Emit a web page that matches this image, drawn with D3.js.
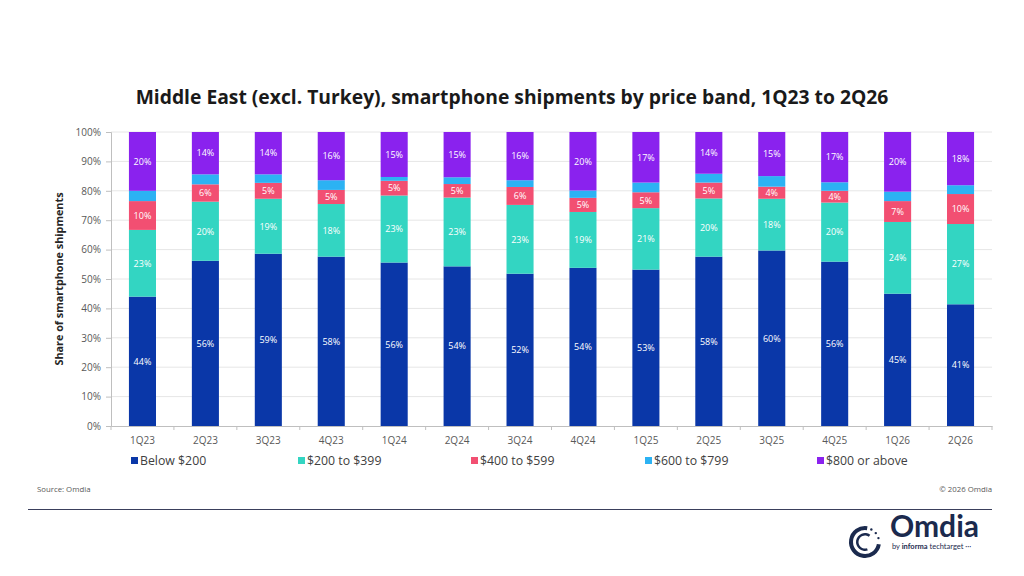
<!DOCTYPE html>
<html><head><meta charset="utf-8">
<script src="https://cdn.jsdelivr.net/npm/d3@7"></script>
<style>
html,body{margin:0;padding:0;background:#fff;}
svg{display:block;font-family:"Open Sans","Noto Sans",sans-serif;}
</style></head>
<body>
<svg id="chart" width="1024" height="576"></svg>
<script>
const categories = ["1Q23","2Q23","3Q23","4Q23","1Q24","2Q24","3Q24","4Q24","1Q25","2Q25","3Q25","4Q25","1Q26","2Q26"];
const seriesNames = ["Below $200","$200 to $399","$400 to $599","$600 to $799","$800 or above"];
const below200  = [44.0,56.2,58.6,57.6,55.6,54.3,51.8,53.8,53.2,57.6,59.7,55.9,45.0,41.4];
const r200to399 = [22.7,20.1,18.7,17.9,22.8,23.4,23.4,19.0,20.9,19.8,17.6,20.1,24.4,27.3];
const r400to599 = [9.8,5.9,5.4,4.8,5.0,4.6,6.1,4.8,5.4,5.4,4.1,4.0,7.1,10.2];
const r600to799 = [3.5,3.4,2.9,3.3,1.3,2.3,2.3,2.5,3.3,3.0,3.6,2.9,3.2,3.0];
const r800plus  = [20.0,14.4,14.4,16.4,15.3,15.4,16.4,19.9,17.2,14.2,15.0,17.1,20.3,18.1];
const yTicks = [0,10,20,30,40,50,60,70,80,90,100];
const colors = ["#0a37a8","#33d5c2","#f24f72","#2cb2f3","#8a22ee"];
const labelled = [true,true,true,false,true];

const seriesValues = [below200,r200to399,r400to599,r600to799,r800plus];
const rows = categories.map((c,i)=>{const o={cat:c}; seriesNames.forEach((s,j)=>o[s]=seriesValues[j][i]); return o;});

const svg = d3.select("#chart");
const m={left:111,right:992,top:132,bottom:426};

svg.append("text").attr("x",512).attr("y",104).attr("text-anchor","middle")
  .attr("font-size",19.3).attr("font-weight",700).attr("fill","#1a1a1a")
  .text("Middle East (excl. Turkey), smartphone shipments by price band, 1Q23 to 2Q26");

const x = d3.scaleBand().domain(categories).range([m.left,m.right]).paddingInner(0.57).paddingOuter(0.285);
const y = d3.scaleLinear().domain([0,100]).range([m.bottom,m.top]);

// gridlines
svg.append("g").selectAll("line").data(yTicks.filter(t=>t>0)).join("line")
  .attr("x1",m.left).attr("x2",m.right).attr("y1",d=>y(d)).attr("y2",d=>y(d))
  .attr("stroke","#e6e6e6").attr("stroke-width",1);

const stack = d3.stack().keys(seriesNames)(rows);
const g = svg.append("g");
stack.forEach((layer,j)=>{
  g.append("g").attr("fill",colors[j]).selectAll("rect").data(layer).join("rect")
    .attr("x",d=>x(d.data.cat)).attr("width",x.bandwidth())
    .attr("y",d=>y(d[1])).attr("height",d=>y(d[0])-y(d[1]));
  if(labelled[j]){
    g.append("g").selectAll("text").data(layer).join("text")
      .attr("x",d=>x(d.data.cat)+x.bandwidth()/2).attr("y",d=>(y(d[0])+y(d[1]))/2+3.3)
      .attr("text-anchor","middle").attr("font-size",9).attr("fill","#fff")
      .text(d=>Math.round(d[1]-d[0])+"%");
  }
});

// y axis
const yAxis = d3.axisLeft(y).tickValues(yTicks).tickFormat(d=>d+"%").tickSize(5).tickPadding(5);
const ya = svg.append("g").attr("transform",`translate(${m.left},0)`).call(yAxis);
ya.select(".domain").attr("stroke","#bfbfbf");
ya.selectAll(".tick line").attr("stroke","#bfbfbf");
ya.selectAll(".tick text").attr("font-size",10).attr("fill","#595959").attr("font-family","Open Sans, sans-serif");

// x axis
const xa = svg.append("g").attr("transform",`translate(0,${m.bottom})`).call(d3.axisBottom(x).tickSize(0).tickPadding(11));
xa.select(".domain").attr("stroke","#bfbfbf");
xa.selectAll(".tick text").attr("font-size",10).attr("fill","#595959").attr("font-family","Open Sans, sans-serif");
const bounds = d3.range(categories.length+1).map(i=>m.left+i*(m.right-m.left)/categories.length);
svg.append("g").selectAll("line").data(bounds).join("line")
  .attr("x1",d=>d).attr("x2",d=>d).attr("y1",m.bottom).attr("y2",m.bottom+4)
  .attr("stroke","#bfbfbf");

// y title
svg.append("text").attr("transform",`translate(63,${(m.top+m.bottom)/2}) rotate(-90)`)
  .attr("text-anchor","middle").attr("font-size",10.8).attr("font-weight",700).attr("fill","#262626")
  .text("Share of smartphone shipments");

// legend
const legX = [131,298,471,645,817];
const leg = svg.append("g").selectAll("g").data(seriesNames).join("g")
  .attr("transform",(d,i)=>`translate(${legX[i]},461)`);
leg.append("rect").attr("x",0).attr("y",-4).attr("width",7).attr("height",7).attr("fill",(d,i)=>colors[i]);
leg.append("text").attr("x",9).attr("y",4).attr("font-size",12.3).attr("fill","#404040").text(d=>d);

// footer
svg.append("text").attr("x",37).attr("y",492).attr("font-size",7.8).attr("fill","#595959").text("Source: Omdia");
svg.append("text").attr("x",992).attr("y",492).attr("text-anchor","end").attr("font-size",7.8).attr("fill","#595959").text("© 2026 Omdia");
svg.append("line").attr("x1",28).attr("x2",992).attr("y1",509.5).attr("y2",509.5).attr("stroke","#3a3f5c").attr("stroke-width",1);

// logo
const logo = svg.append("g");
const arc = d3.arc();
logo.append("path").attr("transform","translate(865,542)")
  .attr("d",arc({innerRadius:12,outerRadius:16,startAngle:Math.PI*0.55,endAngle:Math.PI*2.05})).attr("fill","#1b2a4e");
logo.append("path").attr("transform","translate(865,542)")
  .attr("d",arc({innerRadius:6.5,outerRadius:9,startAngle:Math.PI*0.9,endAngle:Math.PI*2.2})).attr("fill","#1b2a4e");
[0.15,0.28,0.41].forEach(a=>{
  logo.append("circle").attr("cx",865+14*Math.sin(a*Math.PI)).attr("cy",542-14*Math.cos(a*Math.PI)).attr("r",1.2).attr("fill","#1b2a4e");
});
logo.append("text").attr("x",890).attr("y",537).attr("font-size",30).attr("font-weight",700).attr("fill","#1b2a4e").attr("font-family","Lato, sans-serif").text("Omdia");
logo.append("text").attr("x",892).attr("y",549).attr("font-size",7.5).attr("fill","#1b2a4e").attr("font-family","Lato, sans-serif")
  .html('by <tspan font-weight="700">informa</tspan> techtarget ···');
</script>
</body></html>
